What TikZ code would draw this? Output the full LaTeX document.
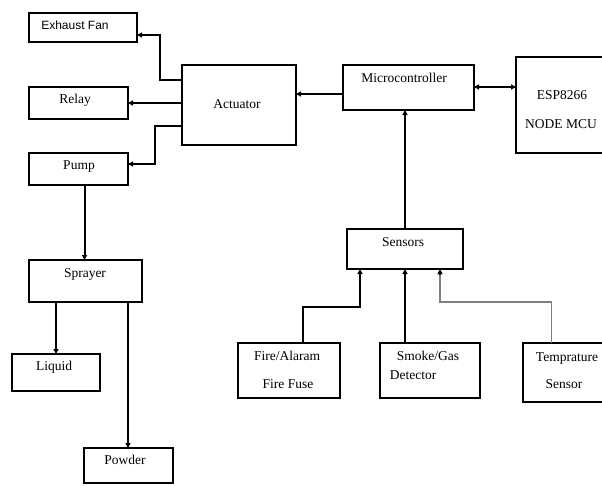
\documentclass[tikz,border=0pt]{standalone}
\usepackage{fontspec}
\setmainfont{Liberation Serif}
\newfontfamily\sansfnt{Liberation Sans}
\usetikzlibrary{arrows.meta}
\tikzset{
  box/.style={draw=black, line width=2.2pt, inner sep=0pt, outer sep=0pt, fill=white},
  txt/.style={inner sep=0pt, anchor=mid, font=\fontsize{13.5}{16}\selectfont},
  stxt/.style={inner sep=0pt, anchor=mid, font=\sansfnt\fontsize{12}{14}\selectfont},
  tip/.style={-{Triangle[length=5pt,width=5pt]}},
  arr/.style={draw=black, line width=2pt, tip},
  darr/.style={draw=black, line width=1.8pt, {Triangle[length=5pt,width=5pt]}-{Triangle[length=5pt,width=5pt]}}
}
\begin{document}
\begin{tikzpicture}[x=1pt,y=-1pt]
\useasboundingbox (0,0) rectangle (602,485);
\clip (0,0) rectangle (602,485);
% boxes
\node[box, minimum width=108pt, minimum height=29pt] (exh) at (83,27.5) {};
\node[box, minimum width=99pt, minimum height=32pt] (relay) at (78.5,103) {};
\node[box, minimum width=99pt, minimum height=32pt] (pump) at (78.5,169) {};
\node[box, minimum width=114pt, minimum height=80pt] (act) at (239,105) {};
\node[box, minimum width=131pt, minimum height=45pt] (micro) at (408.5,87.5) {};
\node[box, minimum width=96pt, minimum height=96pt] (esp) at (564,105) {};
\node[box, minimum width=113pt, minimum height=42pt] (spr) at (85.5,281) {};
\node[box, minimum width=88pt, minimum height=37pt] (liq) at (56,372.5) {};
\node[box, minimum width=89pt, minimum height=35pt] (pow) at (128.5,465.5) {};
\node[box, minimum width=116pt, minimum height=40pt] (sen) at (405,249) {};
\node[box, minimum width=102pt, minimum height=55pt] (fire) at (289,370.5) {};
\node[box, minimum width=100pt, minimum height=55pt] (smoke) at (430,370.5) {};
\node[box, minimum width=89pt, minimum height=59pt] (temp) at (567.5,372.5) {};
% texts
\node[stxt] (exh-t) at (75,27) {Exhaust Fan};
\node[txt] (relay-t) at (75,101) {Relay};
\node[txt] (pump-t) at (79,167) {Pump};
\node[txt] (act-t) at (237,106) {Actuator};
\node[txt] (micro-t) at (404,80) {Microcontroller};
\node[txt] (esp-t1) at (562,97) {ESP8266};
\node[txt] (esp-t2) at (561,126) {NODE MCU};
\node[txt] (spr-t) at (85,275) {Sprayer};
\node[txt] (liq-t) at (54,368) {Liquid};
\node[txt] (pow-t) at (125,462) {Powder};
\node[txt] (sen-t) at (403,244) {Sensors};
\node[txt] (fire-t1) at (287,358) {Fire/Alaram};
\node[txt] (fire-t2) at (288,386) {Fire Fuse};
\node[txt] (smoke-t1) at (428,358) {Smoke/Gas};
\node[txt] (smoke-t2) at (413,377) {Detector};
\node[txt] (temp-t1) at (567,359) {Temprature};
\node[txt] (temp-t2) at (564,386) {Sensor};
% connectors
\draw[arr] ([yshift=25pt]act.west) -- ++(-22,0) |- ([yshift=-7.5pt]exh.east);
\draw[arr] (act.west |- relay.east) -- (relay.east);
\draw[arr] ([yshift=-21pt]act.west) -- ++(-27,0) |- ([yshift=5pt]pump.east);
\draw[arr] ([xshift=-1pt]pump.south -| spr.north) -- ([xshift=-1pt]spr.north);
\draw[arr] (spr.south -| liq.north) -- (liq.north);
\draw[arr] ([xshift=-0.5pt]spr.south -| pow.north) -- ([xshift=-0.5pt]pow.north);
\draw[arr] ([yshift=-6.5pt]micro.west) -- ([yshift=-6.5pt]micro.west -| act.east);
\draw[darr] ([yshift=0.5pt]micro.east) -- ([yshift=0.5pt]micro.east -| esp.west);
\draw[arr] (sen.north) -- (sen.north |- micro.south);
\draw[arr] ([xshift=14pt]fire.north) -- ++(0,-36) -| ([xshift=-45pt]sen.south);
\draw[arr] (sen.south |- smoke.north) -- (sen.south);
\draw[draw=black!50, line width=1.3pt] ([xshift=-16pt]temp.north) -- ++(0,-41) -| ([xshift=35pt,yshift=-5pt]sen.south);
\draw[arr, line width=1.3pt] ([xshift=35pt,yshift=-6pt]sen.south) -- ([xshift=35pt]sen.south);
\end{tikzpicture}
\end{document}
